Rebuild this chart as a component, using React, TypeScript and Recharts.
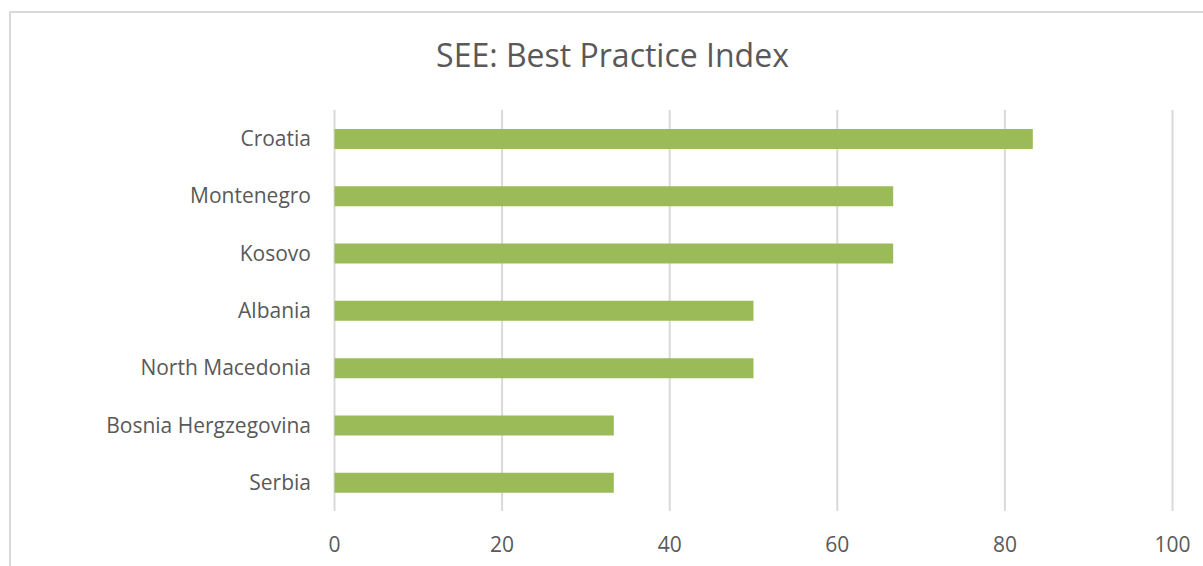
import { BarChart, Bar, XAxis, YAxis, CartesianGrid } from 'recharts';

const countries = [
  'Croatia',
  'Montenegro',
  'Kosovo',
  'Albania',
  'North Macedonia',
  'Bosnia Hergzegovina',
  'Serbia',
];
const scores = [83.33, 66.67, 66.67, 50, 50, 33.33, 33.33];
const xTicks = [0, 20, 40, 60, 80, 100];

const data = countries.map((name, i) => ({ name, value: scores[i] }));

const textColor = '#595959';
const font = '"Open Sans", sans-serif';

export default function App() {
  return (
    <div
      style={{
        position: 'absolute',
        left: 0,
        top: 0,
        width: 1203,
        height: 566,
        overflow: 'hidden',
        background: '#fff',
      }}
    >
      {/* chart frame, runs off the right and bottom edges */}
      <div
        style={{
          position: 'absolute',
          left: 9,
          top: 11,
          width: 1220,
          height: 600,
          border: '2px solid #d9d9d9',
        }}
      />
      <svg
        width={1203}
        height={100}
        style={{ position: 'absolute', left: 0, top: 0 }}
      >
        <text
          x={612.5}
          y={67}
          textAnchor="middle"
          fontFamily={font}
          fontSize={32}
          fill={textColor}
        >
          SEE: Best Practice Index
        </text>
      </svg>
      <div style={{ position: 'absolute', left: 0, top: 0 }}>
        <BarChart
          width={1203}
          height={566}
          data={data}
          layout="vertical"
          margin={{ top: 110, right: 30.5, bottom: 0, left: 0 }}
        >
          <CartesianGrid horizontal={false} stroke="#d9d9d9" strokeWidth={2} />
          <XAxis
            type="number"
            domain={[0, 100]}
            ticks={xTicks}
            height={55}
            axisLine={false}
            tickLine={false}
            tickSize={0}
            tickMargin={26}
            tick={{ fontSize: 21, fill: textColor, fontFamily: font }}
          />
          <YAxis
            type="category"
            dataKey="name"
            width={334.5}
            axisLine={false}
            tickLine={false}
            tickSize={0}
            tickMargin={23.5}
            tick={{ fontSize: 21, fill: textColor, fontFamily: font }}
          />
          <Bar dataKey="value" fill="#9bbb59" barSize={20} isAnimationActive={false} />
        </BarChart>
      </div>
    </div>
  );
}
